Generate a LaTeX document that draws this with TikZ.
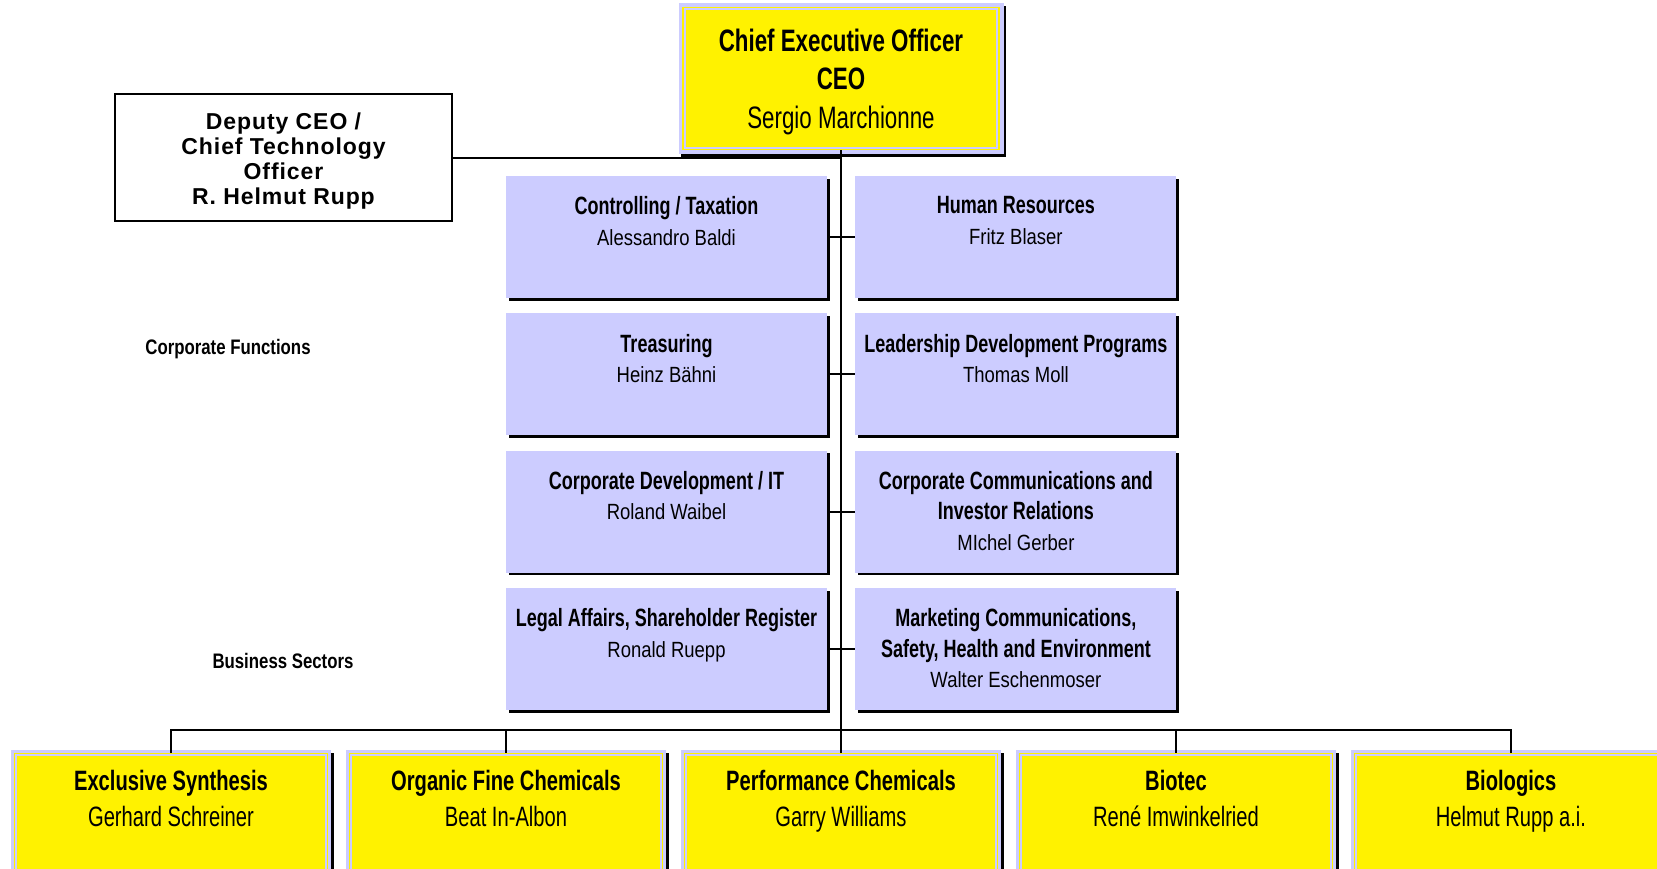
\documentclass[tikz,border=0pt]{standalone}
\usepackage{fontspec}
\setmainfont[FakeStretch=0.72]{Liberation Sans}
\newfontfamily\namefont[FakeStretch=0.84]{Liberation Sans}
\newfontfamily\sidefont[FakeStretch=0.8]{Liberation Sans}
\newfontfamily\deputyfont[LetterSpace=4]{Liberation Sans}
\usetikzlibrary{positioning, shadows}
\definecolor{lav}{RGB}{204,204,255}
\newcommand{\functext}[2]{%
  \begin{minipage}[t][122pt][t]{321pt}\centering
  \vspace*{20.5pt}%
  {\fontsize{25}{30.5}\selectfont\bfseries #1\par}%
  {\fontsize{22}{30.5}\namefont #2\par}%
  \end{minipage}}
\newcommand{\sectortext}[2]{%
  \begin{minipage}[t][130pt][t]{313pt}\centering
  \vspace*{17pt}%
  {\fontsize{28}{36}\selectfont\bfseries #1\par}%
  {\fontsize{28}{36}\selectfont #2\par}%
  \end{minipage}}
\tikzset{
  lavbox/.style={fill=lav, inner sep=0pt,
    drop shadow={shadow xshift=2.5pt, shadow yshift=-2.5pt, fill=black, opacity=1}},
  sunbox/.style={fill=yellow, draw=lav, line width=1.8pt, double=yellow,
    double distance=1.8pt, inner sep=0pt,
    drop shadow={shadow xshift=2.5pt, shadow yshift=-2.5pt, fill=black,
      draw=black, line width=#1, opacity=1},
    preaction={draw=lav, line width=#1}},
  conn/.style={line width=2pt},
}

\begin{document}
\begin{tikzpicture}[x=1pt, y=-1pt]
    \path[use as bounding box, clip] (0,0) rectangle (1657,868);

    % top
    \node[sunbox=9pt, align=center, minimum width=316pt, minimum height=142pt,
        font=\fontsize{31}{38.5}\selectfont] (ceo) at (841,78.5)
        {\rule{0pt}{29pt}\textbf{Chief Executive Officer}\\\textbf{CEO}\\Sergio Marchionne};
    \node[draw, line width=1.5pt, fill=white, minimum width=337pt, minimum height=127pt,
        align=center, font=\deputyfont\bfseries\fontsize{23}{25}\selectfont] (dep) at (283.5,157.5)
        {\rule{0pt}{23pt}Deputy CEO /\\Chief Technology\\Officer\\R. Helmut Rupp};

    % corporate functions
    \node[lavbox] (ctrl) at (666.5,237) {\functext{Controlling / Taxation}{Alessandro Baldi}};
    \node[lavbox, right=28pt of ctrl] (hr) {\functext{Human Resources}{Fritz Blaser}};
    \node[lavbox, below=15pt of ctrl] (treas) {\functext{Treasuring}{Heinz Bähni}};
    \node[lavbox, below=15pt of hr] (lead) {\functext{Leadership Development Programs}{Thomas Moll}};
    \node[lavbox, below=15pt of treas] (devit) {\functext{Corporate Development / IT}{Roland Waibel}};
    \node[lavbox, below=15pt of lead] (comms) {\functext{Corporate Communications and\\Investor Relations}{MIchel Gerber}};
    \node[lavbox, below=15pt of devit] (legal) {\functext{Legal Affairs, Shareholder Register}{Ronald Ruepp}};
    \node[lavbox, below=15pt of comms] (mark) {\functext{Marketing Communications,\\Safety, Health and Environment}{Walter Eschenmoser}};

    \node[font=\sidefont\bfseries\fontsize{21}{25}\selectfont] (corpfn) at (228,349) {Corporate Functions};
    \node[font=\sidefont\bfseries\fontsize{21}{25}\selectfont] (bussec) at (283,661) {Business Sectors};

    % business sectors
    \node[sunbox=7pt] (excl) at (171,818.5) {\sectortext{Exclusive Synthesis}{Gerhard Schreiner}};
    \node[sunbox=7pt] (orgf) at (506,818.5) {\sectortext{Organic Fine Chemicals}{Beat In-Albon}};
    \node[sunbox=7pt] (perf) at (841,818.5) {\sectortext{Performance Chemicals}{Garry Williams}};
    \node[sunbox=7pt] (biot) at (1176,818.5) {\sectortext{Biotec}{René Imwinkelried}};
    \node[sunbox=7pt] (biol) at (1511,818.5) {\sectortext{Biologics}{Helmut Rupp a.i.}};

    % lines
    \coordinate (bus) at (841,730);
    \draw[conn] (ceo.south) -- (bus);
    \draw[conn] (dep.east) -- (dep.east -| ceo.south);
    \draw[conn] (ctrl.east) -- (hr.west);
    \draw[conn] (treas.east) -- (lead.west);
    \draw[conn] (devit.east) -- (comms.west);
    \draw[conn] (legal.east) -- (mark.west);
    \draw[conn] (excl.north) |- (bus) -| (biol.north);
    \draw[conn] (orgf.north) -- (orgf.north |- bus);
    \draw[conn] (bus) -- (perf.north);
    \draw[conn] (biot.north) -- (biot.north |- bus);
\end{tikzpicture}
\end{document}
